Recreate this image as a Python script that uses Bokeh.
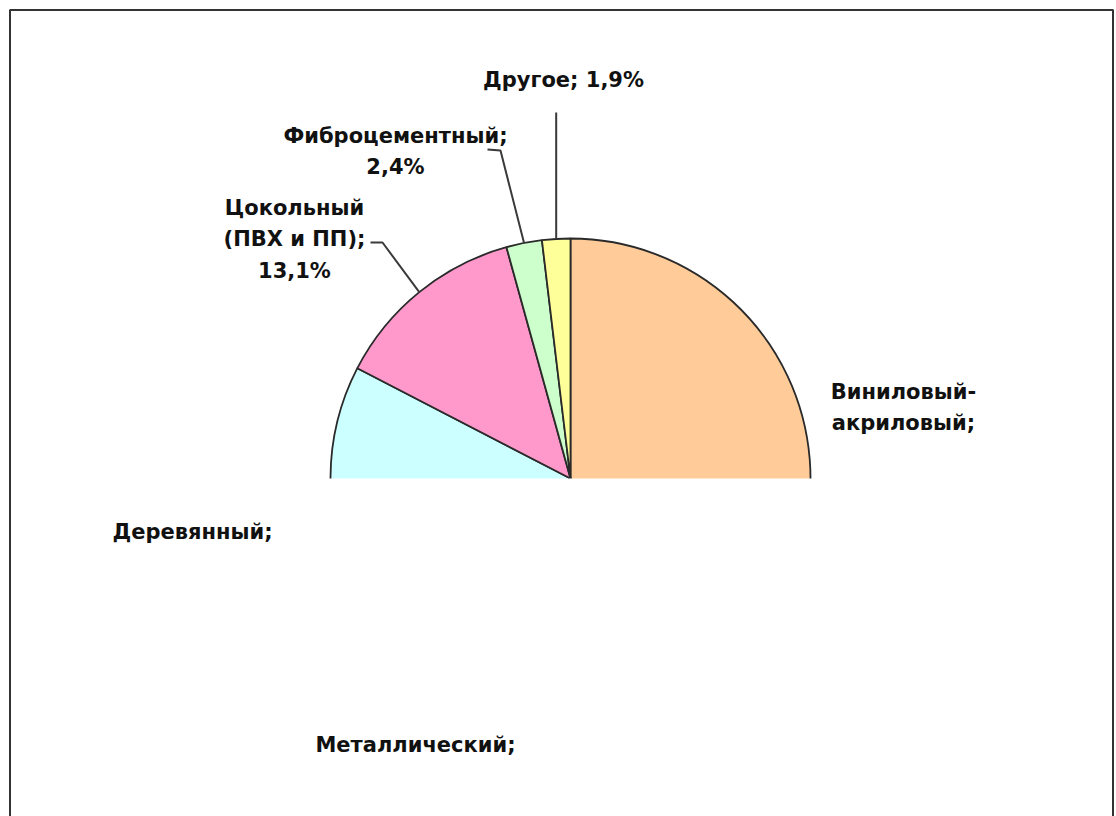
import math
from bokeh.plotting import figure
from bokeh.models import ColumnDataSource, Range1d
from bokeh.core.properties import value
from bokeh.embed import file_html
from bokeh.resources import INLINE

# ---- data (clockwise from 12 o'clock) ----
categories = ["Виниловый-акриловый", "Металлический", "Деревянный",
              "Цокольный (ПВХ и ПП)", "Фиброцементный", "Другое"]
shares = [47.4, 20.1, 15.1, 13.1, 2.4, 1.9]
colors = ["#FFCC99", "#99CCFF", "#CCFFFF", "#FF99CC", "#CCFFCC", "#FFFF99"]
label_texts = ["Виниловый-\nакриловый;", "Металлический;", "Деревянный;",
               "Цокольный\n(ПВХ и ПП);\n13,1%", "Фиброцементный;\n2,4%",
               "Другое; 1,9%"]

R = 240.0
FONT = "DejaVu Sans"

total = sum(shares)
starts, ends, mids = [], [], []
cum = 0.0
for s in shares:
    a_end = math.pi / 2 - 2 * math.pi * cum / total
    cum += s
    a_start = math.pi / 2 - 2 * math.pi * cum / total
    starts.append(a_start)
    ends.append(a_end)
    mids.append((a_start + a_end) / 2)

p = figure(width=1116, height=816, x_range=Range1d(-570, 546),
           y_range=Range1d(-338, 478), toolbar_location=None,
           output_backend="svg", min_border=0)
p.axis.visible = False
p.xgrid.grid_line_color = None
p.ygrid.grid_line_color = None
p.outline_line_color = None
p.background_fill_color = "white"
p.border_fill_color = "white"

# chart-area frame (left, top, right sides; the bottom lies outside the picture)
p.line(x=[-560.5, -560.5, 542.5, 542.5], y=[-345, 468.5, 468.5, -345],
       line_color="#333333", line_width=2)

src = ColumnDataSource(dict(start=starts, end=ends, color=colors, cat=categories))
p.wedge(x=0, y=0, radius=R, start_angle="start", end_angle="end",
        direction="anticlock", fill_color="color", line_color="#2a2a2a",
        line_width=1.8, source=src)

# lower half of the pie is not shown in the original
p.quad(left=-R - 10, right=R + 10, top=0, bottom=-R - 10,
       fill_color="white", line_color=None)

# leader lines: label side anchor -> slice mid point on the rim
def rim(i):
    return R * math.cos(mids[i]), R * math.sin(mids[i])

lx, ly = [], []
ex, ey = rim(5)
lx.append([ex, ex]); ly.append([366, ey])
ex, ey = rim(4)
lx.append([-83, -70, ex]); ly.append([329, 328, ey])
ex, ey = rim(3)
lx.append([-200, -188, ex]); ly.append([236, 236, ey])
p.multi_line(xs=lx, ys=ly, line_color="#3a3a3a", line_width=2)

# labels
lab_x = [333, -155, -378, -276, -175, -7]
lab_y = [71, -266, -53, 239, 327, 399]
lsrc = ColumnDataSource(dict(x=lab_x, y=lab_y, t=label_texts))
p.text(x="x", y="y", text="t", source=lsrc, text_font=value(FONT),
       text_font_style="bold", text_font_size="21px", text_color="#111111",
       text_align="center", text_baseline="middle", text_line_height=1.33)

open("out.html", "w").write(file_html(p, INLINE))
